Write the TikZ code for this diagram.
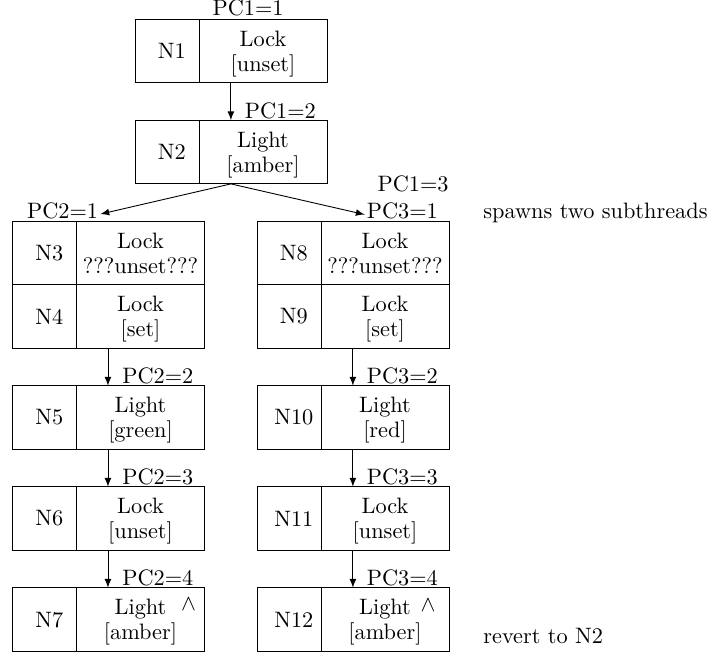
\documentclass[tikz,border=0pt]{standalone}
\usetikzlibrary{positioning}
\tikzstyle{idcell} = [draw, rectangle, minimum width=28.7pt, minimum height=28.5pt,
    inner sep=0pt, outer sep=0pt, execute at begin node={\hspace*{4.3pt}}]
\tikzstyle{stcell} = [draw, rectangle, minimum width=57.4pt, minimum height=28.5pt,
    inner sep=0pt, outer sep=0pt, align=center, text depth=0pt,
    font=\fontsize{10}{11.2}\selectfont]
\tikzstyle{pc} = [inner sep=0pt, anchor=base west]
\tikzstyle{pcleft} = [inner sep=0pt, anchor=base east]
\tikzstyle{arr} = [-latex]

\begin{document}
\begin{tikzpicture}[x=0.4484pt, y=-0.4484pt]
\useasboundingbox (0,0) rectangle (714,657);

% main thread
\node[idcell] (n1) at (167,51.1) {N1};
\node[stcell, right=0pt of n1] (s1) {Lock\\{[unset]}};
\node[idcell, below=16.8pt of n1] (n2) {N2};
\node[stcell, right=0pt of n2] (s2) {Light\\{[amber]}};

% first subthread
\node[idcell] (n3) at (44.5,253) {N3};
\node[stcell, right=0pt of n3] (s3) {Lock\\???unset???};
\node[idcell, below=0pt of n3] (n4) {N4};
\node[stcell, right=0pt of n4] (s4) {Lock\\{[set]}};
\node[idcell, below=16.8pt of n4] (n5) {N5};
\node[stcell, right=0pt of n5] (s5) {Light\\{[green]}};
\node[idcell, below=16.8pt of n5] (n6) {N6};
\node[stcell, right=0pt of n6] (s6) {Lock\\{[unset]}};
\node[idcell, below=16.8pt of n6] (n7) {N7};
\node[stcell, right=0pt of n7] (s7) {Light\\{[amber]}};

% second subthread
\node[idcell] (n8) at (289,253) {N8};
\node[stcell, right=0pt of n8] (s8) {Lock\\???unset???};
\node[idcell, below=0pt of n8] (n9) {N9};
\node[stcell, right=0pt of n9] (s9) {Lock\\{[set]}};
\node[idcell, below=16.8pt of n9] (n10) {N10};
\node[stcell, right=0pt of n10] (s10) {Light\\{[red]}};
\node[idcell, below=16.8pt of n10] (n11) {N11};
\node[stcell, right=0pt of n11] (s11) {Lock\\{[unset]}};
\node[idcell, below=16.8pt of n11] (n12) {N12};
\node[stcell, right=0pt of n12] (s12) {Light\\{[amber]}};

\node (up7) at ([xshift=-7.2pt,yshift=-7.6pt]s7.north east) {$\wedge$};
\node (up12) at ([xshift=-9.4pt,yshift=-7.8pt]s12.north east) {$\wedge$};

% program counters
\node[pc] (pc11) at ([xshift=5.9pt,yshift=1.5pt]s1.north west) {PC1=1};
\node[pc] (pc12) at ([xshift=20.4pt,yshift=1pt]s2.north west) {PC1=2};
\node[pcleft] (pc13) at ([yshift=13.1pt]s8.north east) {PC1=3};
\node[pcleft] (pc21) at ([xshift=9.9pt,yshift=1.2pt]s3.north west) {PC2=1};
\node[pc] (pc22) at ([xshift=20.4pt,yshift=1.1pt]s5.north west) {PC2=2};
\node[pc] (pc23) at ([xshift=20.4pt,yshift=1.1pt]s6.north west) {PC2=3};
\node[pc] (pc24) at ([xshift=20.4pt,yshift=1.1pt]s7.north west) {PC2=4};
\node[pc] (pc31) at ([xshift=20.4pt,yshift=1pt]s8.north west) {PC3=1};
\node[pc] (pc32) at ([xshift=20.4pt,yshift=1.1pt]s10.north west) {PC3=2};
\node[pc] (pc33) at ([xshift=20.4pt,yshift=1.1pt]s11.north west) {PC3=3};
\node[pc] (pc34) at ([xshift=20.4pt,yshift=1.1pt]s12.north west) {PC3=4};

\node[pc] (spawn) at ([xshift=15.2pt,yshift=1pt]s8.north east) {spawns two subthreads};
\node[pc] (revert) at ([xshift=15.2pt,yshift=3.4pt]s12.south east) {revert to N2};

% transitions
\draw[arr] ([xshift=14.3pt]s1.south west) -- ([xshift=14.3pt]s2.north west);
\draw[arr, shorten >=0.8pt] ([xshift=14.3pt]s2.south west) -- ([yshift=1.8pt]pc21.base east);
\draw[arr, shorten >=0.8pt] ([xshift=14.3pt]s2.south west) -- ([yshift=1.8pt]pc31.base west);
\draw[arr] ([xshift=14.1pt]s4.south west) -- ([xshift=14.1pt]s5.north west);
\draw[arr] ([xshift=14.1pt]s5.south west) -- ([xshift=14.1pt]s6.north west);
\draw[arr] ([xshift=14.1pt]s6.south west) -- ([xshift=14.1pt]s7.north west);
\draw[arr] ([xshift=14.3pt]s9.south west) -- ([xshift=14.3pt]s10.north west);
\draw[arr] ([xshift=14.3pt]s10.south west) -- ([xshift=14.3pt]s11.north west);
\draw[arr] ([xshift=14.3pt]s11.south west) -- ([xshift=14.3pt]s12.north west);
\end{tikzpicture}
\end{document}
